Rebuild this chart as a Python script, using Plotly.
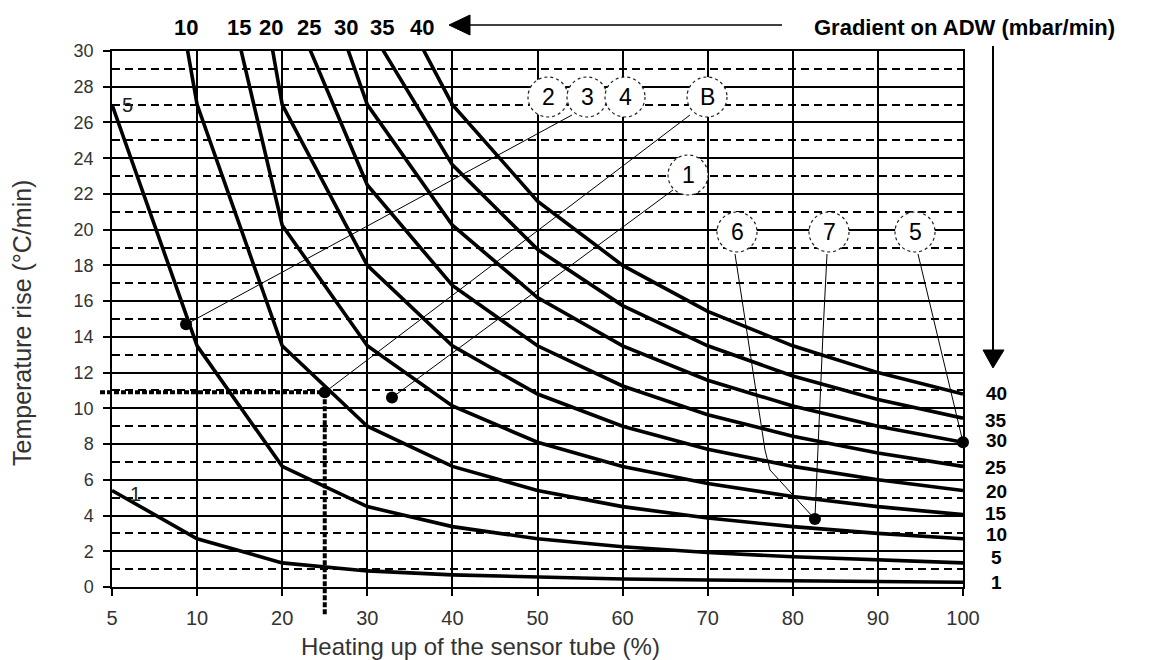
import numpy as np
import plotly.graph_objects as go

# ---- data -----------------------------------------------------------------
heating_pct = [5, 10, 20, 30, 40, 50, 60, 70, 80, 90, 100]   # x categories (%)
gradients = [1, 5, 10, 15, 20, 25, 30, 35, 40]                # mbar/min

# temperature rise (°C/min) per gradient curve, one value per heating category
rise_g1 = [5.4, 2.7, 1.35, 0.9, 0.68, 0.54, 0.45, 0.39, 0.34, 0.3, 0.27]
rise_g5 = [27, 13.5, 6.75, 4.5, 3.38, 2.7, 2.25, 1.93, 1.69, 1.5, 1.35]
rise_g10 = [54, 27, 13.5, 9.0, 6.75, 5.4, 4.5, 3.86, 3.38, 3.0, 2.7]
rise_g15 = [81, 40.5, 20.25, 13.5, 10.13, 8.1, 6.75, 5.79, 5.06, 4.5, 4.05]
rise_g20 = [108, 54, 27, 18, 13.5, 10.8, 9.0, 7.71, 6.75, 6.0, 5.4]
rise_g25 = [135, 67.5, 33.75, 22.5, 16.88, 13.5, 11.25, 9.64, 8.44, 7.5, 6.75]
rise_g30 = [162, 81, 40.5, 27, 20.25, 16.2, 13.5, 11.57, 10.13, 9.0, 8.1]
rise_g35 = [189, 94.5, 47.25, 31.5, 23.63, 18.9, 15.75, 13.5, 11.81, 10.5, 9.45]
rise_g40 = [216, 108, 54, 36, 27, 21.6, 18, 15.43, 13.5, 12, 10.8]

y_tick_vals = list(range(0, 31, 2))

# marked operating points
point_heating = [9.35, 25, 32.9, 82.6, 100]
point_rise = [14.7, 10.9, 10.6, 3.8, 8.1]

# ---- layout constants ------------------------------------------------------
W, H = 1151, 660
PL, PR, PT, PB = 112, 963, 51, 587          # plot area edges (px)
X_MAX = len(heating_pct) - 1
Y_MAX = 30
FONT = "Liberation Sans, Arial, sans-serif"

# small vertical nudges (px, upwards) so the end labels do not collide
end_label_shift = {1: 0, 5: 5, 10: 4, 15: 1, 20: -1, 25: -1, 30: 2, 35: -2, 40: 1}


def px_x(p):
    return (p - PL) / (PR - PL)


def px_y(p):
    return (PB - p) / (PB - PT)


def pct_to_idx(pct):
    return float(np.interp(pct, heating_pct, range(len(heating_pct))))


def data_to_paper(pct, rise):
    return pct_to_idx(pct) / X_MAX, rise / Y_MAX


series = [rise_g1, rise_g5, rise_g10, rise_g15, rise_g20,
          rise_g25, rise_g30, rise_g35, rise_g40]
x_idx = list(range(len(heating_pct)))

fig = go.Figure()

for g, vals in zip(gradients, series):
    fig.add_trace(go.Scatter(
        x=x_idx, y=vals, mode="lines",
        line=dict(color="black", width=3.6),
        name=str(g), hoverinfo="skip",
    ))

# operating point markers
fig.add_trace(go.Scatter(
    x=[pct_to_idx(p) for p in point_heating], y=point_rise,
    mode="markers", marker=dict(color="black", size=12),
    cliponaxis=False, hoverinfo="skip",
))

shapes = []
annotations = []

# thick dotted guide lines through the example point (25 %, 10.9 °C/min)
gx, gy = data_to_paper(point_heating[1], point_rise[1])
shapes.append(dict(type="line", xref="paper", yref="paper",
                   x0=px_x(100), x1=gx, y0=gy, y1=gy,
                   line=dict(color="black", width=4, dash="5px,2px")))
shapes.append(dict(type="line", xref="paper", yref="paper",
                   x0=gx, x1=gx, y0=gy, y1=px_y(615),
                   line=dict(color="black", width=4, dash="5px,2px")))

# callout leader lines: (start point in px, optional bends in px, target point index)
leaders = [
    ((572, 115), [], 0),
    ((690, 115), [], 1),
    ((673, 190), [], 2),
    ((735, 254), [(765, 450), (770, 470)], 3),
    ((827, 254), [(823, 333)], 3),
    ((918, 254), [], 4),
]
for start, bends, ti in leaders:
    pts = [(px_x(start[0]), px_y(start[1]))]
    pts += [(px_x(bx), px_y(by)) for bx, by in bends]
    pts.append(data_to_paper(point_heating[ti], point_rise[ti]))
    path = "M " + " L ".join(f"{a:.5f},{b:.5f}" for a, b in pts)
    shapes.append(dict(type="path", xref="paper", yref="paper", path=path,
                       line=dict(color="black", width=1)))

# callout circles
callouts = [("2", 548, 97), ("3", 587, 97), ("4", 625, 97), ("B", 707, 97),
            ("1", 688, 175), ("6", 737, 232), ("7", 829, 232), ("5", 915, 232)]
R = 20
for lab, cx, cy in callouts:
    shapes.append(dict(type="circle", xref="paper", yref="paper",
                       x0=px_x(cx - R), x1=px_x(cx + R),
                       y0=px_y(cy + R), y1=px_y(cy - R),
                       fillcolor="white",
                       line=dict(color="#222", width=1.2, dash="dot")))
    annotations.append(dict(text=lab, xref="paper", yref="paper",
                            x=px_x(cx), y=px_y(cy), showarrow=False,
                            xanchor="center", yanchor="middle",
                            font=dict(family=FONT, size=23, color="black")))

# horizontal arrow to the gradient labels
shapes.append(dict(type="line", xref="paper", yref="paper",
                   x0=px_x(782), x1=px_x(466), y0=px_y(25), y1=px_y(25),
                   line=dict(color="black", width=1.5)))
shapes.append(dict(type="path", xref="paper", yref="paper",
                   path=f"M {px_x(449)},{px_y(25)} L {px_x(470)},{px_y(15)} "
                        f"L {px_x(470)},{px_y(35)} Z",
                   fillcolor="black", line=dict(color="black", width=1)))
# vertical arrow down to the curve-end labels
shapes.append(dict(type="line", xref="paper", yref="paper",
                   x0=px_x(993), x1=px_x(993), y0=px_y(46), y1=px_y(352),
                   line=dict(color="black", width=2)))
shapes.append(dict(type="path", xref="paper", yref="paper",
                   path=f"M {px_x(993)},{px_y(368)} L {px_x(983)},{px_y(350)} "
                        f"L {px_x(1004)},{px_y(350)} Z",
                   fillcolor="black", line=dict(color="black", width=1)))

annotations.append(dict(text="<b>Gradient on ADW (mbar/min)</b>", xref="paper",
                        yref="paper", x=px_x(964), y=px_y(27), showarrow=False,
                        xanchor="center", yanchor="middle",
                        font=dict(family=FONT, size=22, color="black")))

# gradient labels above the top edge where each curve enters the chart
for g, vals in zip(gradients, series):
    cross = None
    for i in range(len(vals) - 1):
        if vals[i] >= Y_MAX > vals[i + 1]:
            cross = i + (vals[i] - Y_MAX) / (vals[i] - vals[i + 1])
            break
    if cross is None or cross == 0:
        continue
    annotations.append(dict(text=f"<b>{g}</b>", xref="x", yref="paper",
                            x=cross, y=px_y(27), xshift=-2, showarrow=False,
                            xanchor="center", yanchor="middle",
                            font=dict(family=FONT, size=22, color="black")))

# gradient labels at the right-hand end of each curve
for g, vals in zip(gradients, series):
    annotations.append(dict(text=f"<b>{g}</b>", xref="x", yref="y",
                            x=X_MAX, y=vals[-1], xshift=33,
                            yshift=end_label_shift[g], showarrow=False,
                            xanchor="center", yanchor="middle",
                            font=dict(family=FONT, size=19, color="black")))

# small labels at the start of the two lowest curves
annotations.append(dict(text="5", xref="x", yref="y", x=0, y=rise_g5[0],
                        xshift=15, showarrow=False, xanchor="center",
                        yanchor="middle",
                        font=dict(family=FONT, size=20, color="#222")))
annotations.append(dict(text="1", xref="x", yref="y", x=0, y=rise_g1[0],
                        xshift=23, yshift=-3, showarrow=False, xanchor="center",
                        yanchor="middle",
                        font=dict(family=FONT, size=20, color="#222")))

# axis titles
annotations.append(dict(text="Heating up of the sensor tube (%)", xref="paper",
                        yref="paper", x=px_x(480), y=px_y(646),
                        showarrow=False, xanchor="center", yanchor="middle",
                        font=dict(family=FONT, size=24, color="#333")))
annotations.append(dict(text="Temperature rise (°C/min)", xref="paper",
                        yref="paper", x=px_x(22), y=px_y(323), textangle=-90,
                        showarrow=False, xanchor="center", yanchor="middle",
                        font=dict(family=FONT, size=25, color="#333")))

fig.update_layout(
    width=W, height=H,
    margin=dict(l=PL, r=W - PR, t=PT, b=H - PB, pad=0),
    plot_bgcolor="white", paper_bgcolor="white",
    showlegend=False,
    font=dict(family=FONT, color="#333"),
    shapes=shapes, annotations=annotations,
)
fig.update_xaxes(
    range=[0, X_MAX], tickmode="array", tickvals=x_idx,
    ticktext=[str(v) for v in heating_pct],
    showgrid=True, gridcolor="black", gridwidth=1.5,
    showline=True, linecolor="black", linewidth=1.5, mirror=True,
    zeroline=False, ticks="outside", ticklen=7, tickcolor="black",
    tickwidth=1.5, ticklabelstandoff=5,
    tickfont=dict(family=FONT, size=20, color="#333"),
)
fig.update_yaxes(
    range=[0, Y_MAX], tickmode="array", tickvals=y_tick_vals,
    showgrid=True, gridcolor="black", gridwidth=1.5,
    minor=dict(dtick=1, tick0=0, showgrid=True, gridcolor="black",
               gridwidth=1.5, griddash="8px,5px"),
    showline=True, linecolor="black", linewidth=1.5, mirror=True,
    zeroline=False, ticks="outside", ticklen=7, tickcolor="black",
    tickwidth=1.5, ticklabelstandoff=6,
    tickfont=dict(family=FONT, size=18, color="#333"),
)

fig.write_html("out.html")
